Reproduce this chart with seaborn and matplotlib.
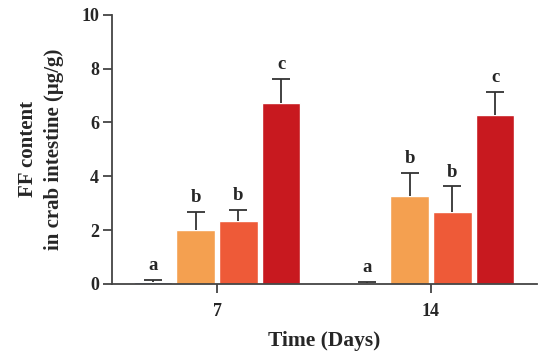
import pandas as pd
import matplotlib.pyplot as plt
import seaborn as sns

# values
days = ['7', '14']
groups = ['G1', 'G2', 'G3', 'G4']
means_7 = [0.08, 2.0, 2.32, 6.74]
means_14 = [0.05, 3.25, 2.69, 6.28]
sd_7 = [0.06, 0.69, 0.43, 0.88]
sd_14 = [0.03, 0.89, 0.93, 0.87]
letters_7 = ['a', 'b', 'b', 'c']
letters_14 = ['a', 'b', 'b', 'c']
colors = ['#3060B0', '#F4A050', '#EE5A38', '#C8191F']

df = pd.DataFrame({
    'Day': [days[0]] * 4 + [days[1]] * 4,
    'Group': groups * 2,
    'Mean': means_7 + means_14,
    'SD': sd_7 + sd_14,
    'Letter': letters_7 + letters_14,
})

sns.set_style('ticks')
plt.rcParams['font.family'] = ['Liberation Serif', 'DejaVu Serif']
plt.rcParams['font.weight'] = 'bold'

fig = plt.figure(figsize=(5.5, 3.63), dpi=100)
ax = fig.add_axes([0.204, 0.218, 0.772, 0.741])

sns.barplot(data=df, x='Day', y='Mean', hue='Group', order=days, hue_order=groups,
            palette=colors, width=0.8, gap=0.1, errorbar=None, legend=False,
            saturation=1, ax=ax)

# upper error bars + significance letters, placed on each bar
cap = 0.042
pairs = [(i, g) for g in groups for i in range(len(days))]
for (i, g), bar in zip(pairs, ax.patches):
    row = df[(df['Day'] == days[i]) & (df['Group'] == g)].iloc[0]
    xc = bar.get_x() + bar.get_width() / 2
    top = row['Mean'] + row['SD']
    ax.vlines(xc, row['Mean'], top, color='#333333', lw=1.3, zorder=1)
    ax.hlines(top, xc - cap, xc + cap, color='#333333', lw=1.3, zorder=3)
    ax.text(xc, top + 0.22, row['Letter'], ha='center', va='bottom',
            fontsize=13.5, fontweight='bold')

ax.set_ylim(0, 10)
ax.set_yticks([0, 2, 4, 6, 8, 10])
ax.set_xlim(-0.49, 1.495)
ax.set_xlabel('Time (Days)', fontsize=15.5, fontweight='bold', labelpad=8)
ax.set_ylabel('FF content\nin crab intestine (μg/g)', fontsize=15, fontweight='bold',
              labelpad=12, linespacing=1.45)
ax.tick_params(axis='both', labelsize=13, width=1.3, length=6.5, color='#444444')
ax.tick_params(axis='x', pad=7)
ax.tick_params(axis='y', pad=3)
for lab in ax.get_xticklabels() + ax.get_yticklabels():
    lab.set_fontweight('bold')
sns.despine(ax=ax)
for s in ['left', 'bottom']:
    ax.spines[s].set_color('#444444')
    ax.spines[s].set_linewidth(1.3)

fig.savefig('out.png', dpi=100)
